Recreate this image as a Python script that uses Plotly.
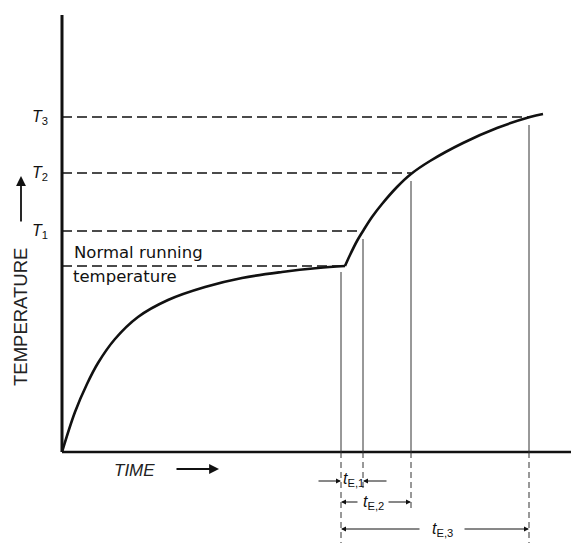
import plotly.graph_objects as go

# ---- data (arbitrary units) ----
warmup_time = [0, 13, 25, 36, 53, 76, 106, 143, 180, 220, 256, 283]
warmup_temp = [0, 40, 68, 89, 113, 135, 152, 165, 174, 180, 184, 186]
overload_time = [283, 288, 295, 301, 310, 320, 335, 349, 368, 401, 435, 468, 481]
overload_temp = [186, 197, 211, 221, 235, 248, 265, 278, 291, 309, 324, 335, 338]

normal_temp = 186
normal_end = 283
level_labels = ["1", "2", "3"]
level_temps = [221, 279, 335]
t_start = 279
t_end = [301, 349, 467]
te_labels = ["E,1", "E,2", "E,3"]

AXIS_TOP = 437
AXIS_RIGHT = 517

fig = go.Figure()
black = "#111111"

def seg(x, y, width, dash=None, color=black):
    fig.add_trace(go.Scatter(x=x, y=y, mode="lines", hoverinfo="skip",
                             line=dict(color=color, width=width, dash=dash)))

# axes
seg([0, 0], [0, AXIS_TOP], 3)
seg([0, AXIS_RIGHT], [0, 0], 2.5)

# dashed horizontals
seg([0, normal_end], [normal_temp, normal_temp], 1.6, "10px,5px")
for lt, te in zip(level_temps, t_end):
    seg([0, te], [lt, lt], 1.6, "10px,5px")

# vertical solid lines from curve to axis
seg([t_start, t_start], [normal_temp - 6, 0], 1, color="#333")
for lt, te in zip(level_temps, t_end):
    seg([te, te], [lt - 8, 0], 1, color="#333")

# dashed extensions below axis
ext = [-91, -40, -58, -91]
for tx, e in zip([t_start] + t_end, ext):
    seg([tx, tx], [0, e], 1, "6px,4px", color="#333")

# temperature curve
fig.add_trace(go.Scatter(x=warmup_time, y=warmup_temp, mode="lines", line_shape="spline",
                         line=dict(color=black, width=2.6), hoverinfo="skip"))
fig.add_trace(go.Scatter(x=overload_time, y=overload_temp, mode="lines", line_shape="spline",
                         line=dict(color=black, width=2.6), hoverinfo="skip"))

ann = []
for lab, lt in zip(level_labels, level_temps):
    ann.append(dict(x=-22, y=lt, xref="x", yref="y", showarrow=False,
                    text="<i>T</i><sub>%s</sub>" % lab,
                    font=dict(family="Liberation Sans, Arial", size=16, color=black)))

ann.append(dict(x=10, y=200, xref="x", yref="y", showarrow=False, xanchor="left",
                text="Normal running", font=dict(family="DejaVu Sans, sans-serif", size=16.5, color=black)))
ann.append(dict(x=9, y=176, xref="x", yref="y", showarrow=False, xanchor="left",
                text="temperature", font=dict(family="DejaVu Sans, sans-serif", size=16.5, color=black)))

ann.append(dict(x=-42, y=135, xref="x", yref="y", showarrow=False, textangle=-90,
                text="TEMPERATURE", font=dict(family="Liberation Sans, Arial", size=18.5, color="#222")))
ann.append(dict(x=-41, y=276, ax=-41, ay=229, xref="x", yref="y", axref="x", ayref="y",
                showarrow=True, arrowhead=2, arrowsize=1.1, arrowwidth=1.8, arrowcolor=black, text=""))

ann.append(dict(x=72, y=-18, xref="x", yref="y", showarrow=False,
                text="<i>TIME</i>", font=dict(family="Liberation Sans, Arial", size=17, color="#222")))
ann.append(dict(x=157, y=-17, ax=113, ay=-17, xref="x", yref="y", axref="x", ayref="y",
                showarrow=True, arrowhead=2, arrowsize=1.1, arrowwidth=1.8, arrowcolor=black, text=""))

lab_font = dict(family="Liberation Sans, Arial", size=16, color=black)
# t_E,1 (arrows pointing inward from outside)
y1 = -29
ann.append(dict(x=t_start, y=y1, ax=t_start - 24, ay=y1, xref="x", yref="y", axref="x", ayref="y",
                showarrow=True, arrowhead=2, arrowsize=1, arrowwidth=1, arrowcolor=black, text=""))
ann.append(dict(x=t_end[0], y=y1, ax=t_end[0] + 25, ay=y1, xref="x", yref="y", axref="x", ayref="y",
                showarrow=True, arrowhead=2, arrowsize=1, arrowwidth=1, arrowcolor=black, text=""))
ann.append(dict(x=(t_start + t_end[0]) / 2 + 1, y=y1 + 2, xref="x", yref="y", showarrow=False,
                text="<i>t</i><sub>%s</sub>" % te_labels[0], font=lab_font))
# t_E,2 and t_E,3 (arrows pointing outward)
for (ye, te, lab, gap, mid) in [(-50, t_end[1], te_labels[1], 14, 311), (-77, t_end[2], te_labels[2], 21, 380)]:
    ann.append(dict(x=t_start, y=ye, ax=mid - gap, ay=ye, xref="x", yref="y", axref="x", ayref="y",
                    showarrow=True, arrowhead=2, arrowsize=1, arrowwidth=1, arrowcolor=black, text=""))
    ann.append(dict(x=te, y=ye, ax=mid + gap, ay=ye, xref="x", yref="y", axref="x", ayref="y",
                    showarrow=True, arrowhead=2, arrowsize=1, arrowwidth=1, arrowcolor=black, text=""))
    ann.append(dict(x=mid, y=ye, xref="x", yref="y", showarrow=False,
                    text="<i>t</i><sub>%s</sub>" % lab, font=lab_font))

# the page adds an 8px body margin, so the figure covers pixels 8..579 x 8..543
fig.update_layout(
    width=571, height=535,
    margin=dict(l=0, r=0, t=0, b=0),
    paper_bgcolor="white", plot_bgcolor="white",
    showlegend=False,
    annotations=ann,
    xaxis=dict(range=[-54, 517], visible=False, fixedrange=True),
    yaxis=dict(range=[-91, 444], visible=False, fixedrange=True),
)

fig.write_html("out.html")
